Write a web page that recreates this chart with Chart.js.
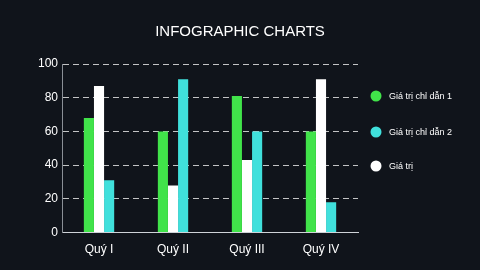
<!DOCTYPE html>
<html>
<head>
<meta charset="utf-8">
<script src="https://cdn.jsdelivr.net/npm/chart.js@4"></script>
<style>
  html, body { margin: 0; padding: 0; background: #10141b; }
  #wrap { width: 480px; height: 270px; }
</style>
</head>
<body>
<div id="wrap"><canvas id="chart"></canvas></div>
<script>
// data
const quarters = ['Quý I', 'Quý II', 'Quý III', 'Quý IV']
const seriesNames = ['Giá trị chỉ dẫn 1', 'Giá trị', 'Giá trị chỉ dẫn 2']
const guide1 = [68, 60, 81, 60]
const value = [87, 28, 43, 91]
const guide2 = [31, 91, 60, 18]
const yTicks = [0, 20, 40, 60, 80, 100]
const chartTitle = 'INFOGRAPHIC CHARTS'

const green = '#41e34a'
const cyan = '#40e0dc'
const white = '#ffffff'
const font = '"Liberation Sans", Arial, sans-serif'

// legend order in the picture: guide1, guide2, value
const legendOrder = [0, 2, 1]

// title centred on the whole canvas, legend to the right of the plot
const decorations = {
  id: 'decorations',
  afterDraw: (chart) => {
    const ctx = chart.ctx
    ctx.save()
    ctx.fillStyle = '#ffffff'
    ctx.font = '15px ' + font
    ctx.textAlign = 'center'
    ctx.textBaseline = 'middle'
    ctx.fillText(chartTitle, chart.width / 2, 32)

    const x = chart.chartArea.right + 18
    const rows = [96, 132, 166]
    ctx.font = '9px ' + font
    ctx.textAlign = 'left'
    legendOrder.forEach((di, i) => {
      const ds = chart.data.datasets[di]
      ctx.fillStyle = ds.backgroundColor
      ctx.beginPath()
      ctx.arc(x, rows[i], 5.5, 0, Math.PI * 2)
      ctx.fill()
      ctx.fillStyle = '#ffffff'
      ctx.fillText(ds.label, x + 13, rows[i] + 1)
    })
    ctx.restore()
  },
}

new Chart(document.getElementById('chart'), {
  type: 'bar',
  data: {
    labels: quarters,
    datasets: [
      { label: seriesNames[0], data: guide1, backgroundColor: green },
      { label: seriesNames[1], data: value, backgroundColor: white },
      { label: seriesNames[2], data: guide2, backgroundColor: cyan },
    ],
  },
  options: {
    responsive: true,
    maintainAspectRatio: false,
    animation: false,
    layout: { padding: { left: 34, right: 122, top: 64, bottom: 11 } },
    datasets: { bar: { barPercentage: 1, categoryPercentage: 0.41 } },
    scales: {
      x: {
        grid: { display: false },
        border: { color: '#cfd3d8', width: 1 },
        ticks: { color: '#ffffff', font: { family: font, size: 12 }, padding: 2 },
      },
      y: {
        min: 0,
        max: 100,
        afterBuildTicks: (axis) => { axis.ticks = yTicks.map((v) => ({ value: v })) },
        grid: { color: 'rgba(255,255,255,0.75)', drawTicks: false, lineWidth: 1 },
        border: { color: '#8a8f96', width: 1, dash: [6, 4] },
        ticks: { color: '#ffffff', font: { family: font, size: 12 }, padding: 4 },
      },
    },
    plugins: {
      title: { display: false },
      legend: { display: false },
      tooltip: { enabled: false },
    },
  },
  plugins: [decorations],
})
</script>
</body>
</html>
